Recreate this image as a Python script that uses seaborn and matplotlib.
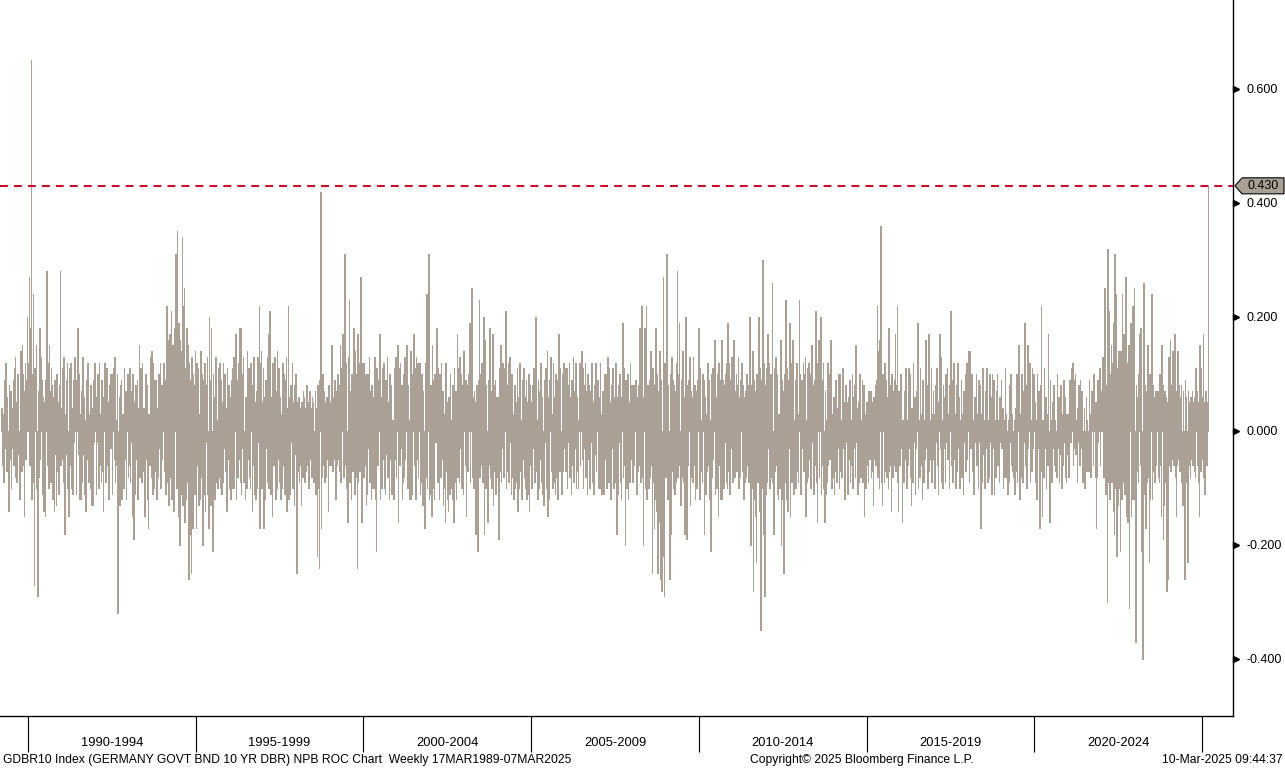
import matplotlib
matplotlib.use("Agg")

import numpy as np
import pandas as pd
import matplotlib.pyplot as plt
import matplotlib.dates as mdates
import matplotlib.transforms as mtransforms
from matplotlib.patches import Polygon
import seaborn as sns


# Data: weekly rate of change of the Bund 10Y yield, in basis points
roc_1989_1994 = [
    # 1989 (from 17 Mar)
    4, -6, 3, -9, 9, -3, 12, 5, -7, 6, -4, -14, 8,
    -5, 7, -10, 4, -3, 9, -6, 11, 13, -8, 5, -9, 10,
    6, -4, -12, 8, 14, -7, 15, 10, -6, -15, 7, 12, -5,
    9, 20, 12,
    # 1990
    8, 27, -6, 18, 65, -12, 10, 24, -9, -27, 11, 6, 15,
    -10, -29, 7, -8, 18, -5, 13, 9, -11, 6, -7, -14, 5,
    -15, 9, 28, -6, 12, -10, 15, 7, -9, 11, -5, 8, -12,
    6, -14, 9, -4, -13, 10, -7, 5, -11, 8, 28, -6, 4,
    # 1991
    -5, 11, -9, 13, -18, 3, -4, 9, 12, -10, -15, 2, 11,
    -6, 12, -10, 4, -11, 9, -2, 13, 9, -11, 6, 18, -4,
    10, -12, 3, -12, 7, -9, 13, -4, 6, -11, 2, -14, 9,
    -5, 12, 11, -9, 3, -10, 8, -13, 4, -13, 9, -2, 12,
    # 1992
    6, -11, 4, -2, 10, -10, 12, -6, 3, -9, 9, -7, -14,
    6, 12, -5, -9, 2, 11, -6, 5, -12, 8, 10, -3, 10,
    -11, 5, 11, -5, 13, -9, 2, -6, 10, -32, -8, 6, -13,
    8, 9, -12, 3, -6, -10, 11, -5, 7, -12, 2, 10, -8,
    # 1993
    -6, 11, -9, 7, -2, -15, 10, -8, -19, 5, -11, 8, -5,
    9, -12, 4, 15, -8, 11, 2, -9, 12, -7, 4, -10, -15,
    10, -5, 8, -12, -17, 3, -6, 11, 13, -8, 14, -11, 12,
    -10, 9, -7, 9, -12, 4, -8, 10, -3, 5, 12, -10, 8,
    -5,
    # 1994
    5, 12, -7, 9, -11, 14, 22, -9, 16, -13, 10, 17, -8,
    21, -12, 15, 9, -14, 18, 13, 31, -10, 35, 12, -15, 19,
    -20, 16, -11, 14, 34, -13, 22, 25, -16, 11, -12, 18, -9,
    15, -26, 12, -18, 9, -25, 13, -17, 10, 8, -11, 14, -9,
]

roc_1995_1999 = [
    # 1995
    -17, 12, -6, 11, -13, 3, -12, 14, -8, 10, -20, 9, -11,
    12, -14, 8, -2, 13, -11, -17, 20, 9, -13, 18, -5, -21,
    10, -12, 6, -12, 13, -9, 2, -10, 11, -8, 12, -10, 9,
    -11, 5, -9, 12, -3, 10, -7, 4, -14, 11, -5, 8, -10,
    # 1996
    6, -12, 9, -3, 11, -10, 13, -10, 2, 17, -12, 9, -8,
    12, -5, 18, -9, 18, -11, 10, -3, 13, -9, -9, -12, 6,
    -10, 14, -5, 11, -8, 3, -10, 12, 8, -14, -6, 13, -11,
    5, -12, 7, -10, 13, -2, 9, 22, -17, 12, 14, -10, 5,
    # 1997
    11, -17, 6, -12, 9, -3, 13, -9, 17, -10, 21, 8, -11,
    6, -15, 12, -6, 2, 13, -12, 7, -10, 14, -5, 11, -9,
    6, -12, 3, -10, 12, -6, 10, -11, 9, -8, 13, -14, 4,
    22, -12, 6, -11, 8, -2, 12, -10, 5, -13, 8, -4, 10,
    # 1998
    -25, 5, -7, 6, -9, 4, -6, -13, 5, -8, 7, -5, 6,
    -9, 4, -7, 8, -6, 5, -10, 7, -5, 4, -8, 6, -7,
    5, -9, -6, 7, -11, 4, -22, 8, -10, -24, 9, 42, -17,
    6, -8, 10, -6, 7, -9, 5, -8, 6, -5, -14, 8, -6,
    # 1999
    5, -6, 8, 15, -7, 6, -5, 9, -8, -12, 7, -6, 10,
    -5, 8, -7, 15, -9, 11, 6, 17, -8, 9, 31, -6, 12,
    -10, -16, 8, 13, 23, -9, 7, -12, 10, -7, 9, 18, -11,
    14, -8, 10, -24, 17, -9, 12, -7, 9, 27, -16, 11, 12,
    -8,
]

roc_2000_2004 = [
    # 2000
    12, -6, 10, -13, 8, -11, 10, -3, 13, -9, 7, -12, 8,
    -10, 6, -10, 13, -12, 9, -21, 11, -6, 3, 9, 17, -12,
    6, -10, 11, -5, 12, -10, 2, -11, 9, -4, 13, -8, 5,
    -12, 10, -5, 8, -11, 2, -9, -12, 11, -5, 13, -8, 6,
    # 2001
    15, -16, 11, -6, 12, -3, 8, -12, -9, 10, -8, 13, -5,
    11, 15, -10, 8, -10, 2, -12, 14, -12, 9, -11, 10, 17,
    -6, 11, -12, 13, -5, 12, -8, 3, 12, -11, 5, -9, 10,
    -13, 7, -10, -17, 12, -8, 24, -10, 11, 31, -12, 8, -11,
    # 2002
    8, -15, 15, -10, 9, -12, 10, -2, 12, 18, -9, 11, -6,
    -12, 10, -8, 12, -5, 7, -13, 3, -10, -16, 12, -7, 5,
    -12, -14, 6, -11, 10, -10, 2, -12, 8, -16, 11, -9, 7,
    -12, 5, 17, -8, 11, -9, 13, -3, 10, -10, 8, -11, 14,
    # 2003
    7, -6, 9, -15, 8, -7, 6, 10, 19, -9, 8, 25, -8,
    6, -10, 7, -9, 5, -18, 8, -12, -21, 9, 23, -8, 10,
    -6, 12, -9, 7, 20, -18, 16, -10, 8, -7, -16, 9, -6,
    18, -8, 7, -10, 6, 17, -13, 8, -7, 9, -11, 6, -8,
    # 2004
    6, -19, 11, -7, 15, -9, 10, -3, 12, -8, 11, 5, 21,
    -10, 8, -7, 12, -9, 13, -2, 10, -11, 10, -8, 3, -12,
    8, -10, 5, -9, 11, -14, 6, -10, 12, -7, 2, -12, 9,
    -5, 11, -8, 6, -10, 9, -12, 5, -11, 10, -14, 8, -6,
    5,
]

roc_2005_2009 = [
    # 2005
    -10, 8, -3, 11, -9, 12, 20, -7, 2, -12, 9, -10, 7,
    -5, 12, -9, 6, -11, -13, 9, -2, 11, -10, 8, 14, -15,
    6, -12, 9, 13, -7, 3, -10, 12, -9, 6, -11, 10, -8,
    9, -12, 3, 17, -7, 11, -5, -11, 10, -7, 12, -3, 6,
    # 2006
    11, -7, 11, -10, 8, -2, 12, -8, 6, -11, 9, -6, 13,
    -9, 7, -3, 12, -10, 6, -7, -10, 2, 12, -6, 10, 14,
    -5, 11, -10, 8, -3, 12, -8, 7, -11, 10, -5, 8, -10,
    7, -2, 12, -9, 5, -11, 8, -4, 12, -7, 2, 9, -10,
    # 2007
    6, -10, 12, -7, 3, -11, 7, -4, -11, 10, -5, 10, -10,
    2, 13, -9, 11, -8, 5, -12, 8, -3, 11, -10, 6, -9,
    12, -7, -18, 6, -11, 8, -2, 10, -9, -12, 6, 19, -8,
    11, -6, -20, 9, -10, 3, 10, -12, 5, -9, 12, -5, 8,
    # 2008
    7, -9, 8, -6, 5, 9, -8, -11, 6, -7, 8, -6, 18,
    -9, 7, 22, -8, -20, 6, 18, -10, 9, 22, -12, 8, -7,
    -10, 9, -8, 14, -6, -25, 11, -9, -17, 8, -12, 18, -14,
    10, -25, 7, -16, 14, -26, 9, -28, -13, 27, -22, -29, 12,
    # 2009
    -8, 9, 31, -12, 8, -9, -26, 10, -18, 13, -7, 9, -10,
    8, -11, 7, -9, 12, 28, -8, 10, 19, -6, -13, 9, -8,
    7, 14, -9, 6, -18, 20, -7, -19, 8, -6, 9, 13, -13,
    7, -8, 6, -9, 13, -6, 8, -12, 7, -10, 6, 9, 18,
]

roc_2010_2014 = [
    # 2010
    6, -12, 11, -7, 2, -9, 10, 9, -18, 6, -11, 3, -7,
    12, -6, 9, -12, 2, -21, 10, -8, 11, -5, 9, 16, -11,
    6, -10, 10, -3, -15, 12, -6, 9, -12, 16, -12, 9, -10,
    8, -2, 10, -9, 12, -10, 19, -7, 12, -11, 9, -3, 13,
    -9,
    # 2011
    9, 16, -8, 7, -6, 10, -7, 8, 13, -10, 6, -8, 9,
    12, -7, 8, -12, 6, -9, 7, -8, 10, -6, 8, -9, 7,
    20, -20, 8, -10, 14, -28, 9, -12, 7, -15, -23, 10, -9,
    8, 20, -14, 11, -35, 9, -10, 30, -18, 12, -29, 8, -11,
    # 2012
    11, -9, 17, -3, 12, -10, 10, -8, 2, 26, -9, -18, 11,
    -7, 13, -6, 10, -11, -12, 3, -10, 12, 16, -20, 9, -12,
    7, -25, 10, -9, 23, -12, 11, -14, 9, -3, 19, -15, 12,
    -9, 6, 16, -11, 2, -10, 9, -10, 12, -7, -9, 3, 23,
    # 2013
    10, -11, 7, 9, -3, 12, -7, 10, 13, -15, 2, -9, 11,
    -8, 12, -5, 10, -10, 15, -2, 8, -11, 9, -6, 21, 8,
    -9, -16, 12, 16, -8, 3, 20, -11, 9, -6, 12, -10, -16,
    7, -11, 2, -9, 12, -6, 10, -5, 9, 16, -10, 3, -8,
    # 2014
    6, -11, 2, -7, 9, -9, 4, -3, 10, -10, 10, -7, 2,
    -8, 11, -3, 5, -9, -12, 8, -2, 5, -11, 6, -5, 9,
    -9, 2, -6, 10, -10, 6, -3, 8, -8, 15, -2, 4, -11,
    5, -9, 10, -8, 2, -6, 9, -9, 8, -15, 3, -10, 5,
]

roc_2015_2019 = [
    # 2015
    5, -6, -9, 7, -5, 6, 7, -8, 5, -7, -13, 6, -5,
    8, -6, 9, 22, -8, 14, -10, 16, 12, 36, -9, -13, 10,
    8, -9, 12, -7, 9, -8, 6, -10, 18, -7, 8, -6, -14,
    10, -8, 7, -6, 9, 17, -7, 8, 22, -9, -14, 7, -6,
    # 2016
    -6, 10, -3, -16, 2, -9, 7, -5, 11, 9, -10, 2, -6,
    11, -3, 10, -8, -13, 4, -9, 12, -2, 6, -11, 5, -3,
    7, 19, -10, 2, -8, 11, -6, 3, -12, 9, -9, 2, -5,
    10, 16, -3, 8, -10, 17, -7, 2, -5, 11, -9, 3, 7,
    -5,
    # 2017
    3, -10, 8, -2, 11, -6, -11, 5, 17, -3, 13, -9, 2,
    -10, 8, -3, 6, -9, 10, -2, 11, -5, 3, -10, 8, 21,
    -6, 9, -2, -9, 12, -5, 3, -10, 8, -7, 12, -3, 6,
    -10, 2, -5, 9, -8, 3, -11, 7, -2, 10, -7, 12, -5,
    # 2018
    2, 14, -9, 7, 14, -3, 10, -7, 2, -11, -8, 6, -2,
    10, -6, 3, -10, 9, -2, 8, -17, 3, -9, 11, -4, 2,
    -10, 7, -3, 11, -4, -9, 2, -8, 10, -2, 6, -11, 10,
    -3, 9, -11, 2, -8, 7, -3, 10, -6, 2, -9, 6, -2,
    # 2019
    9, -3, 4, -10, 2, -8, 11, -8, 3, -6, -11, 2, -9,
    8, -2, 10, -6, 3, -7, -8, 2, -11, 4, -7, 10, -9,
    2, 15, -7, -12, 3, -8, 10, -9, 7, 6, -2, 19, -6,
    8, -10, 15, -3, 7, 12, -9, 2, -7, 11, -3, 5, 10,
]

roc_2020_2025 = [
    # 2020
    5, -9, 2, -12, 10, -3, 7, -10, -17, 8, 22, -7, -15,
    2, -8, 11, -3, 6, -10, 3, -6, 17, -2, -16, 9, -5,
    2, -9, 5, -3, 8, -6, 2, -7, -8, 10, -3, 6, -9,
    2, -4, 8, -10, 3, -6, 9, -2, 6, -8, -9, 3, -4,
    # 2021
    3, -8, 6, 9, -2, 8, 11, 12, -6, 9, -3, 10, -4,
    2, -9, 4, -2, 8, -6, 9, -3, 7, 2, -9, -8, 4,
    -10, -3, 6, -7, 2, -4, -7, 9, 3, -8, 6, 7, 2,
    -6, 10, 3, -8, 5, -17, -8, 9, -2, 6, 11, -6, 7,
    4,
    # 2022
    6, 13, -8, 9, 25, -7, -11, 8, -30, 32, -9, 21, -12,
    10, 15, -9, 12, -14, 19, -18, 31, -10, 24, -22, 11, -13,
    14, -10, -21, 14, -12, 24, -9, 15, 17, -11, 13, 27, -15,
    12, -16, 15, -31, 10, 19, -15, 9, -12, 22, -12, 25, -10,
    # 2023
    -37, 8, -7, 6, -9, 10, 17, -6, 18, -21, -12, -40, 9,
    26, -11, 8, -17, 7, -9, 15, -8, -23, 10, -12, 6, 24,
    -12, 8, -7, 6, -9, 7, -6, 5, 7, -8, 6, -9, 10,
    -6, -15, 15, 8, -19, -13, 7, -9, 6, -28, 5, -26, 8,
    # 2024
    13, -6, 16, -7, 8, -5, 14, -6, 9, 17, -8, -15, 7,
    -6, 14, -5, 8, -7, 6, 8, -9, -13, 7, -10, -26, 9,
    -7, 6, -9, -23, 7, -6, 5, -8, 6, -5, 7, -6, 5,
    -7, 6, -8, 11, 7, -6, 5, -9, -15, 15, -7, 11, -5,
    # 2025 (to 7 Mar)
    6, 17, -8, 5, -11, 7, 6, -6, 5, 43,
]

# first Friday of each block
block_starts = ["1989-03-17", "1995-01-06", "2000-01-07", "2005-01-07",
                "2010-01-01", "2015-01-02", "2020-01-03"]
blocks = [roc_1989_1994, roc_1995_1999, roc_2000_2004, roc_2005_2009,
          roc_2010_2014, roc_2015_2019, roc_2020_2025]

period_labels = ["1990-1994", "1995-1999", "2000-2004", "2005-2009",
                 "2010-2014", "2015-2019", "2020-2024"]
period_years = [1990, 1995, 2000, 2005, 2010, 2015, 2020]
y_ticks = [-0.4, -0.2, 0.0, 0.2, 0.4, 0.6]


# Frame
frames = []
for start, vals in zip(block_starts, blocks):
    dates = pd.date_range(start, periods=len(vals), freq="7D")
    frames.append(pd.DataFrame({"date": dates, "roc": np.array(vals) / 100}))

df = pd.concat(frames, ignore_index=True)
df["x"] = mdates.date2num(df["date"])

last_value = df["roc"].iloc[-1]


# Style
BAR = "#aaa095"
RED = "#c8102e"

sns.set_style("white")
plt.rcParams["font.family"] = ["Liberation Sans", "DejaVu Sans"]

fig = plt.figure(figsize=(12.85, 7.69), dpi=100)
ax = fig.add_axes([0, 1 - 716 / 769, 1233 / 1285, 716 / 769])


# Bars
sns.barplot(
    data=df,
    x="x",
    y="roc",
    native_scale=True,
    width=1.0,
    color=BAR,
    saturation=1,
    errorbar=None,
    linewidth=0,
    ax=ax
)

for p in ax.patches:
    p.set_antialiased(False)
    p.set_edgecolor(BAR)
    p.set_linewidth(0.55)


# Last value line
ax.axhline(last_value, color=RED, lw=1.5, ls=(0, (3.8, 2.9)), zorder=5)


# Axes
ax.set_xlim(mdates.date2num(pd.Timestamp("1989-03-02")),
            mdates.date2num(pd.Timestamp("2025-12-04")))
ax.set_ylim(-0.5, 0.756)

for side in ["top", "left"]:
    ax.spines[side].set_visible(False)
for side in ["right", "bottom"]:
    ax.spines[side].set_color("black")
    ax.spines[side].set_linewidth(1)

ax.set_xlabel("")
ax.set_ylabel("")

major = [mdates.date2num(pd.Timestamp(f"{y}-01-01")) for y in range(1990, 2030, 5)]
ax.set_xticks(major)
ax.set_xticklabels([])
ax.tick_params(axis="x", which="major", direction="out", length=26, width=0.8,
               color="black", bottom=True)

for yr, lab in zip(period_years, period_labels):
    a = mdates.date2num(pd.Timestamp(f"{yr}-01-01"))
    b = mdates.date2num(pd.Timestamp(f"{yr + 5}-01-01"))
    ax.text((a + b) / 2, -0.038, lab, transform=ax.get_xaxis_transform(),
            ha="center", va="center", fontsize=9.3, color="black")

ax.yaxis.tick_right()
ax.set_yticks(y_ticks)
ax.set_yticklabels([f"{v:.3f}" for v in y_ticks])
ax.tick_params(axis="y", length=0, pad=10, labelsize=9, labelcolor="black")

ytr = mtransforms.blended_transform_factory(ax.transAxes, ax.transData)
ax.plot([1 + 3 / 1233] * len(y_ticks), y_ticks, ls="none", marker=">",
        markersize=4.5, color="black", transform=ytr, clip_on=False)


# Last value label box
h = 8 / 570
box = Polygon(
    [(1 + 2 / 1233, last_value), (1 + 9 / 1233, last_value + h),
     (1 + 51 / 1233, last_value + h), (1 + 51 / 1233, last_value - h),
     (1 + 9 / 1233, last_value - h)],
    closed=True, facecolor=BAR, edgecolor="black", lw=0.8,
    transform=ytr, clip_on=False, zorder=6
)
ax.add_patch(box)
ax.text(1 + 30 / 1233, last_value, f"{last_value:.3f}", transform=ytr,
        ha="center", va="center", fontsize=9, color="black", zorder=7,
        clip_on=False)


# Footer
fy = 1 - 760 / 769
fig.text(0.002, fy,
         "GDBR10 Index (GERMANY GOVT BND 10 YR DBR) NPB ROC Chart  Weekly 17MAR1989-07MAR2025",
         ha="left", va="center", fontsize=8.7, color="black")
fig.text(862 / 1285, fy, "Copyright\u00a9 2025 Bloomberg Finance L.P.",
         ha="center", va="center", fontsize=8.7, color="black")
fig.text(0.998, fy, "10-Mar-2025 09:44:37",
         ha="right", va="center", fontsize=8.7, color="black")


fig.savefig("out.png", dpi=100)
plt.close(fig)
